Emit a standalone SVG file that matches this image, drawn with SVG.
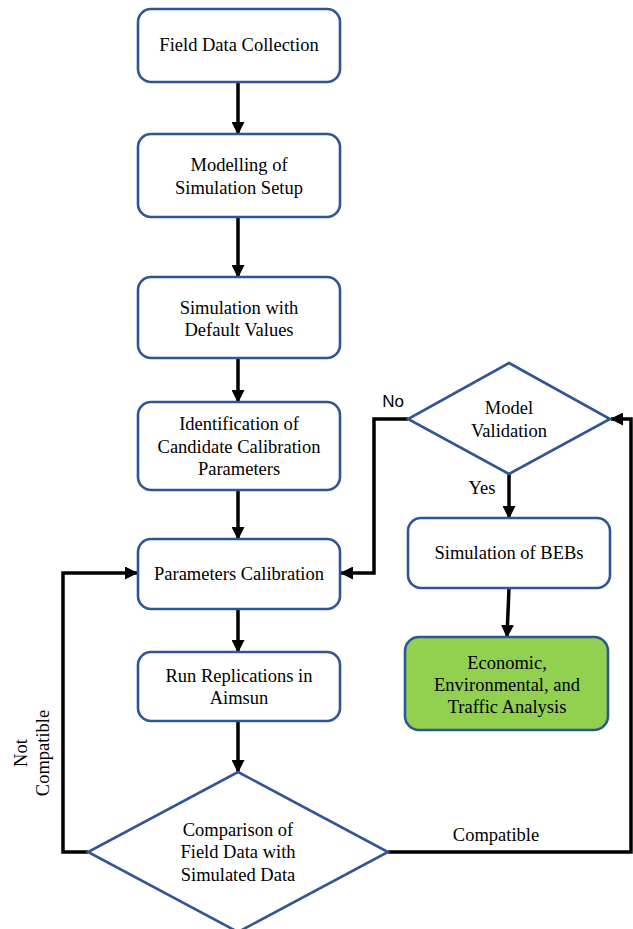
<svg xmlns="http://www.w3.org/2000/svg" width="633" height="929" viewBox="0 0 633 929">
<style>
.box{fill:#fff;stroke:#2F5597;stroke-width:2.6}
.green{fill:#92D050;stroke:#2F5597;stroke-width:2.6}
.t{font-family:"Liberation Serif","Times New Roman","DejaVu Serif",serif;font-size:18.5px;fill:#000;text-anchor:middle;dominant-baseline:central}
.s{font-family:"Liberation Sans",Arial,sans-serif;font-size:17px;fill:#000;text-anchor:middle;dominant-baseline:central}
.c{fill:none;stroke:#000;stroke-width:3.5}
</style>
<defs>
<marker id="ah" markerUnits="userSpaceOnUse" markerWidth="13" markerHeight="13" refX="12" refY="6.5" orient="auto">
<path d="M0,0 L13,6.5 L0,13 z" fill="#000"/>
</marker>
</defs>
<rect width="633" height="929" fill="#fff"/>
<g id="connectors">
<path class="c" d="M238,82 V134" marker-end="url(#ah)"/>
<path class="c" d="M238,217 V277" marker-end="url(#ah)"/>
<path class="c" d="M238,358 V402" marker-end="url(#ah)"/>
<path class="c" d="M238,490 V539" marker-end="url(#ah)"/>
<path class="c" d="M238,609 V652" marker-end="url(#ah)"/>
<path class="c" d="M238,721 V772" marker-end="url(#ah)"/>
<path class="c" d="M88,852 H63 V573 H137" marker-end="url(#ah)"/>
<path class="c" d="M388,852 H631 V419 H611" marker-end="url(#ah)"/>
<path class="c" d="M408,419 H374 V573 H341" marker-end="url(#ah)"/>
<path class="c" d="M509,474 V518" marker-end="url(#ah)"/>
<path class="c" d="M509,588 L507,637" marker-end="url(#ah)"/>
<text class="s" x="393" y="401">No</text>
<text class="t" x="482" y="488">Yes</text>
<text class="t" x="496" y="835">Compatible</text>
<text class="t" transform="translate(21,753) rotate(-90)">Not</text>
<text class="t" transform="translate(43,753) rotate(-90)">Compatible</text>
</g>
<g id="n1">
<rect class="box" x="138" y="9" width="202" height="73" rx="13"/>
<text class="t" x="239" y="45">Field Data Collection</text>
</g>
<g id="n2">
<rect class="box" x="138" y="134" width="202" height="83" rx="13"/>
<text class="t" x="239" y="165">Modelling of</text>
<text class="t" x="239" y="188">Simulation Setup</text>
</g>
<g id="n3">
<rect class="box" x="138" y="277" width="202" height="81" rx="13"/>
<text class="t" x="239" y="308">Simulation with</text>
<text class="t" x="239" y="330">Default Values</text>
</g>
<g id="n4">
<rect class="box" x="138" y="402" width="202" height="88" rx="13"/>
<text class="t" x="239" y="424">Identification of</text>
<text class="t" x="239" y="447">Candidate Calibration</text>
<text class="t" x="239" y="469">Parameters</text>
</g>
<g id="n5">
<rect class="box" x="138" y="539" width="202" height="70" rx="13"/>
<text class="t" x="239" y="574">Parameters Calibration</text>
</g>
<g id="n6">
<rect class="box" x="138" y="652" width="202" height="69" rx="13"/>
<text class="t" x="239" y="676">Run Replications in</text>
<text class="t" x="239" y="698">Aimsun</text>
</g>
<g id="n7">
<polygon class="box" points="238,772 388,852 238,932 88,852"/>
<text class="t" x="238" y="830">Comparison of</text>
<text class="t" x="238" y="852">Field Data with</text>
<text class="t" x="238" y="875">Simulated Data</text>
</g>
<g id="n8">
<polygon class="box" points="509,363 610,419 509,474 408,419"/>
<text class="t" x="509" y="408">Model</text>
<text class="t" x="509" y="431">Validation</text>
</g>
<g id="n9">
<rect class="box" x="408" y="518" width="202" height="70" rx="13"/>
<text class="t" x="509" y="553">Simulation of BEBs</text>
</g>
<g id="n10">
<rect class="green" x="405" y="637" width="203" height="93" rx="14"/>
<text class="t" x="507" y="663">Economic,</text>
<text class="t" x="507" y="685">Environmental, and</text>
<text class="t" x="507" y="707">Traffic Analysis</text>
</g>
</svg>
